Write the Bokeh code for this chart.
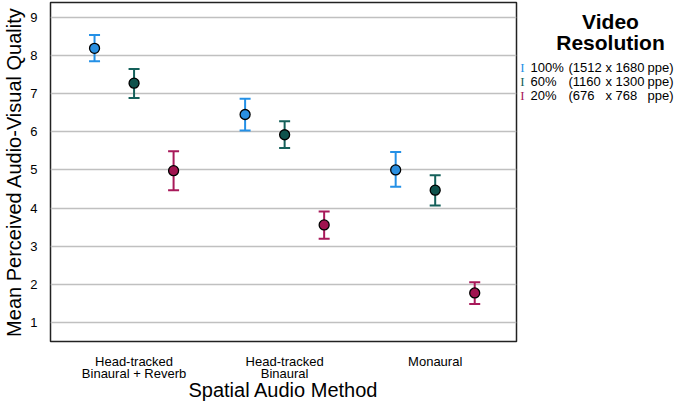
from bokeh.plotting import figure
from bokeh.layouts import row
from bokeh.models import ColumnDataSource, Whisker, TeeHead, FixedTicker, Range1d
from bokeh.core.properties import value
from bokeh.embed import file_html
from bokeh.resources import INLINE

methods = ["Head-tracked\nBinaural + Reverb", "Head-tracked\nBinaural", "Monaural"]
resolutions = ["100%", "60%", "20%"]
res_width = ["(1512", "(1160", "(676"]
res_height = ["x 1680", "x 1300", "x 768"]
res_unit = ["ppe)", "ppe)", "ppe)"]
legend_title = ["Video", "Resolution"]

means_100 = [8.18, 6.45, 5.00]
lower_100 = [7.84, 6.03, 4.56]
upper_100 = [8.53, 6.86, 5.47]
means_60 = [7.27, 5.92, 4.47]
lower_60 = [6.88, 5.57, 4.07]
upper_60 = [7.64, 6.27, 4.86]
means_20 = [4.98, 3.56, 1.78]
lower_20 = [4.47, 3.20, 1.49]
upper_20 = [5.49, 3.91, 2.06]

y_ticks = [1, 2, 3, 4, 5, 6, 7, 8, 9]

series = [
    (means_100, lower_100, upper_100, "#2490e6", "#2a8fe0"),
    (means_60, lower_60, upper_60, "#14605a", "#0f524c"),
    (means_20, lower_20, upper_20, "#a8195a", "#a0134f"),
]
offsets = [-0.2625, 0.0, 0.2625]
FONT = "Liberation Sans"

p = figure(width=518, height=403, output_backend="svg", toolbar_location=None,
           x_range=Range1d(-0.555, 2.54), y_range=Range1d(0.51, 9.38),
           min_border_left=50, min_border_right=2, min_border_top=2, min_border_bottom=58)
p.background_fill_color = "white"
p.border_fill_color = "white"
p.outline_line_color = "#222222"
p.outline_line_width = 1.5

p.xgrid.grid_line_color = None
p.ygrid.grid_line_color = "#c0c0c0"
p.ygrid.grid_line_width = 1.5
p.ygrid.ticker = FixedTicker(ticks=y_ticks)

p.yaxis.ticker = FixedTicker(ticks=y_ticks)
p.xaxis.ticker = FixedTicker(ticks=[0, 1, 2])
p.xaxis.major_label_overrides = {i: m for i, m in enumerate(methods)}

for ax in (p.xaxis[0], p.yaxis[0]):
    ax.axis_line_color = None
    ax.major_tick_line_color = None
    ax.minor_tick_line_color = None
    ax.major_label_text_font = FONT
    ax.major_label_text_color = "black"
    ax.axis_label_text_font = FONT
    ax.axis_label_text_font_style = "normal"
    ax.axis_label_text_font_size = "20px"
    ax.axis_label_text_line_height = 0.9
    ax.axis_label_text_color = "black"

p.yaxis.major_label_text_font_size = "13px"
p.xaxis.major_label_text_font_size = "13px"
p.xaxis.major_label_text_line_height = 0.8
p.yaxis.major_label_standoff = 7
p.xaxis.major_label_standoff = 6
p.yaxis.axis_label = "Mean Perceived Audio-Visual Quality"
p.xaxis.axis_label = "Spatial Audio Method"
p.yaxis.axis_label_standoff = 2
p.xaxis.axis_label_standoff = -5

for k, (m, lo, up, lc, fc) in enumerate(series):
    xs = [i + offsets[k] for i in range(len(methods))]
    src = ColumnDataSource(dict(x=xs, y=m, lower=lo, upper=up))
    w = Whisker(source=src, base="x", upper="upper", lower="lower",
                line_color=lc, line_width=2,
                upper_head=TeeHead(size=11, line_color=lc, line_width=2),
                lower_head=TeeHead(size=11, line_color=lc, line_width=2))
    p.add_layout(w)
    p.scatter("x", "y", source=src, size=10, fill_color=fc, line_color="black", line_width=1.3)

# legend panel: a second figure; its frame is aligned with the main frame (pixel rows 2..345)
q = figure(width=158, height=403, output_backend="svg", toolbar_location=None,
           x_range=Range1d(518, 676), y_range=Range1d(345, 2),
           min_border=0, outline_line_color=None)
q.axis.visible = False
q.grid.visible = False
q.background_fill_color = "white"
q.border_fill_color = "white"

title_y = [21, 42]
q.text(x=[610] * len(legend_title), y=title_y, text=legend_title,
       text_font=value(FONT), text_font_size="21px", text_font_style="bold",
       text_align="center", text_baseline="middle", text_color="black")

row_y = [67.5, 82, 96.5]
q.text(x=[522] * len(resolutions), y=row_y, text=["I"] * len(resolutions),
       text_font=value("Liberation Serif"), text_font_size="13px",
       text_align="center", text_baseline="middle",
       text_color=[s[3] for s in series])
for col_x, col in zip([530, 568, 605, 647], [resolutions, res_width, res_height, res_unit]):
    q.text(x=[col_x] * len(col), y=row_y, text=col,
           text_font=value(FONT), text_font_size="13px",
           text_align="left", text_baseline="middle", text_color="black")

layout = row(p, q, spacing=0)
open("out.html", "w").write(file_html(layout, INLINE))
